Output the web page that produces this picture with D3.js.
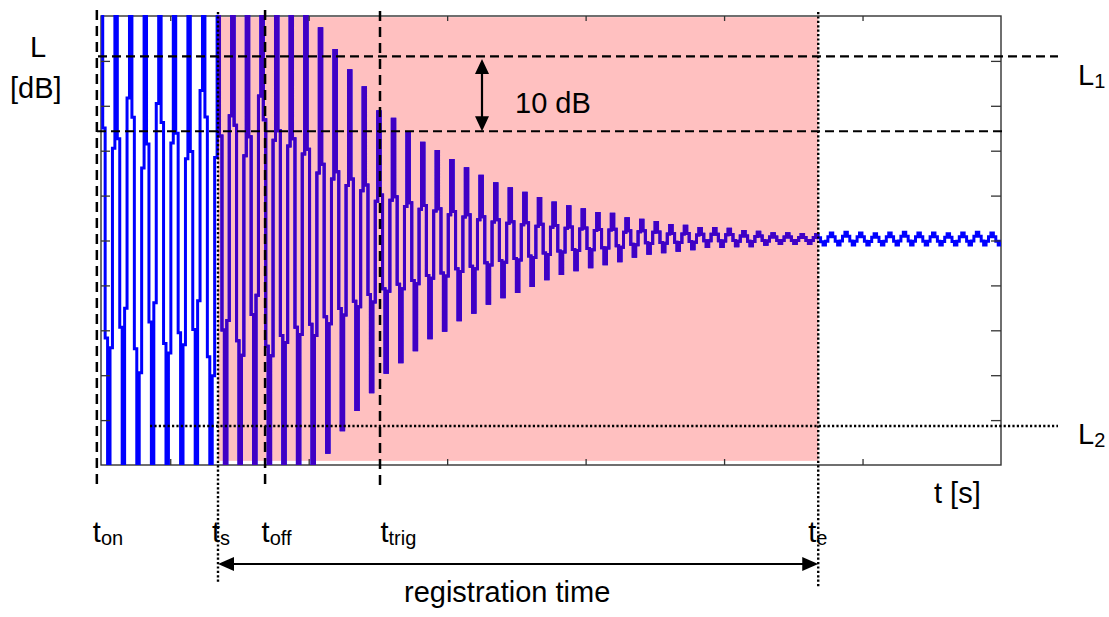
<!DOCTYPE html>
<html>
<head>
<meta charset="utf-8">
<script src="https://cdn.jsdelivr.net/npm/d3@7"></script>
<style>
  html, body { margin: 0; padding: 0; background: #fff; }
  svg { display: block; font-family: "Liberation Sans", Arial, sans-serif; }
</style>
</head>
<body>
<svg id="chart" width="1109" height="617"></svg>
<script>
// ---- Data -------------------------------------------------------------
// Event instants on the time axis (s)
const eventKeys  = ["on", "s", "off", "trig", "e"];
const eventTimes = [-0.03, 0.845, 1.185, 2.015, 5.18];

// Reference levels (dB)
const levelL1   = 54.6;
const levelStep = 10;     // distance between L1 and the trigger threshold
const levelL2   = 5.2;

// Axis tick positions (unlabelled)
const timeTicks  = [0.5, 1.5, 2.5, 3.5, 4.5, 5.5];
const levelTicks = [6, 12, 18, 24, 30, 36, 42, 48, 54];

// Oscillating level: one period and the time of the first maximum (s)
const cyclePeriod   = 0.10545;
const firstPeakTime = 0.0036;

// Level at each maximum of the oscillation (dB), cycle by cycle
const peakDb = [
  70, 66, 74, 64, 72, 68, 63, 75, 67, 71, 65, 73, 69, 66, 63,
  58.3, 55.4, 52.7, 50.4, 47.2, 46.2, 44.3, 43.0, 41.9, 40.7,
  39.6, 38.6, 37.6, 36.9, 36.3, 35.6, 35.0, 34.5, 34.1, 33.6,
  33.5, 32.9, 32.7, 32.4, 32.0, 31.9, 31.6, 31.6, 31.5, 31.2,
  31.1, 30.9, 30.9, 30.8, 30.8,
  31.0, 31.1, 31.0, 30.9, 31.0, 31.1, 31.0, 31.0, 30.9, 31.0, 31.1, 31.0, 31.0
];

// Level at each minimum that follows a maximum (dB)
const troughDb = [
  -8, -4, -12, -2, -10, -6, -3, -14, -5, -9, -1, -11, -7, -4,
  -2, 1.7, 4.7, 7.4, 9.8, 12.4, 13.8, 15.4, 17.0, 18.0, 19.4,
  20.4, 21.6, 22.5, 23.2, 24.0, 24.9, 25.6, 26.1, 26.5, 26.9,
  27.3, 27.9, 28.3, 28.5, 28.7, 28.9, 29.2, 29.2, 29.3, 29.3,
  29.5, 29.6, 29.6, 29.6, 29.4,
  29.4, 29.4, 29.4, 29.4, 29.4, 29.4, 29.4, 29.4, 29.4, 29.4, 29.4, 29.4
];

// Sampled level within a half period, as a fraction of the swing
// (6 samples per period, each held until the next one)
const stepShape = [1, 0.68, 0.32];

// ---- Layout -----------------------------------------------------------
const svg = d3.select("#chart");
const frame = { left: 101, right: 1001, top: 16, bottom: 465 };

const x = d3.scaleLinear().domain([0, 6.5]).range([frame.left, frame.right]);
const y = d3.scaleLinear().domain([0, 60]).range([frame.bottom, frame.top]);

const tAt = k => eventTimes[eventKeys.indexOf(k)];

// Build the held samples of the oscillating level
const samples = [];
const half = stepShape.length;
const dt = cyclePeriod / (2 * half);
for (let k = 0; k < troughDb.length; k++) {
  const t0 = firstPeakTime + k * cyclePeriod;
  const p = peakDb[k], tr = troughDb[k], pn = peakDb[k + 1];
  for (let j = 0; j < half; j++) samples.push([t0 + j * dt, tr + stepShape[j] * (p - tr)]);
  samples.push([t0 + half * dt, tr]);
  for (let j = half + 1; j < 2 * half; j++) samples.push([t0 + j * dt, tr + stepShape[2 * half - j] * (pn - tr)]);
}
samples.push([firstPeakTime + troughDb.length * cyclePeriod, peakDb[troughDb.length]]);

const defs = svg.append("defs");
defs.append("clipPath").attr("id", "clipFrame")
  .append("rect")
  .attr("x", x(0)).attr("y", y(60) - 1)
  .attr("width", x(6.5) - x(0)).attr("height", y(0) - y(60) + 1);
defs.append("clipPath").attr("id", "clipRegistration")
  .append("rect")
  .attr("x", x(tAt("s"))).attr("y", y(60) - 1)
  .attr("width", x(tAt("e")) - x(tAt("s"))).attr("height", y(0) - y(60) + 1);

// Registration period shading
svg.append("rect")
  .attr("x", x(tAt("s"))).attr("y", y(59.85))
  .attr("width", x(tAt("e")) - x(tAt("s")))
  .attr("height", y(0.55) - y(59.85))
  .attr("fill", "#ffc0c0");

// Plot frame
svg.append("rect")
  .attr("x", x(0)).attr("y", y(60))
  .attr("width", x(6.5) - x(0)).attr("height", y(0) - y(60))
  .attr("fill", "none").attr("stroke", "#333").attr("stroke-width", 1.4);

// Level trace
const line = d3.line().x(d => x(d[0])).y(d => y(d[1])).curve(d3.curveStep);
svg.append("path")
  .datum(samples)
  .attr("clip-path", "url(#clipFrame)")
  .attr("d", line)
  .attr("fill", "none").attr("stroke", "#0000ff").attr("stroke-width", 3);
svg.append("g").attr("clip-path", "url(#clipFrame)")
  .append("path")
  .datum(samples)
  .attr("clip-path", "url(#clipRegistration)")
  .attr("d", line)
  .attr("fill", "none").attr("stroke", "#4000c4").attr("stroke-width", 3);

// Inward ticks on all four sides
function ticksOnly(g) {
  g.select(".domain").remove();
  g.selectAll(".tick line").attr("stroke", "#333").attr("stroke-width", 1.3);
  g.selectAll(".tick text").remove();
}
svg.append("g").attr("transform", `translate(0,${y(0)})`)
  .call(d3.axisBottom(x).tickValues(timeTicks).tickSize(-6).tickFormat("")).call(ticksOnly);
svg.append("g").attr("transform", `translate(0,${y(60)})`)
  .call(d3.axisTop(x).tickValues(timeTicks).tickSize(-5).tickFormat("")).call(ticksOnly);
svg.append("g").attr("transform", `translate(${x(0)},0)`)
  .call(d3.axisLeft(y).tickValues(levelTicks).tickSize(-9).tickFormat("")).call(ticksOnly);
svg.append("g").attr("transform", `translate(${x(6.5)},0)`)
  .call(d3.axisRight(y).tickValues(levelTicks).tickSize(-10).tickFormat("")).call(ticksOnly);

// Level markers
const guides = svg.append("g").attr("fill", "none").attr("stroke", "#000");
guides.append("line")
  .attr("x1", 98).attr("x2", 1058)
  .attr("y1", y(levelL1)).attr("y2", y(levelL1))
  .attr("stroke-width", 2.2).attr("stroke-dasharray", "9,5");
guides.append("line")
  .attr("x1", 97).attr("x2", 1005)
  .attr("y1", y(levelL1 - levelStep)).attr("y2", y(levelL1 - levelStep))
  .attr("stroke-width", 2.2).attr("stroke-dasharray", "9,5");
guides.append("line")
  .attr("x1", 150).attr("x2", 1058)
  .attr("y1", Math.round(y(levelL2))).attr("y2", Math.round(y(levelL2)))
  .attr("stroke-width", 2.4).attr("stroke-dasharray", "2.2,2.2");

// Event markers
const eventStyle = {
  on:   { dash: "10,6",    top: 10, bottom: 490, w: 2.5 },
  s:    { dash: "2.2,2.2", top: 12, bottom: 584, w: 2.4 },
  off:  { dash: "10,6",    top: 10, bottom: 490, w: 2.5 },
  trig: { dash: "10,6",    top: 11, bottom: 490, w: 2.5 },
  e:    { dash: "2.2,2.2", top: 12, bottom: 588, w: 2.4 }
};
eventKeys.forEach(k => {
  const s = eventStyle[k];
  guides.append("line")
    .attr("x1", x(tAt(k))).attr("x2", x(tAt(k)))
    .attr("y1", s.top).attr("y2", s.bottom)
    .attr("stroke-width", s.w).attr("stroke-dasharray", s.dash);
});

// Double-headed arrows
function arrow(x1, y1, x2, y2, len, hw) {
  const g = svg.append("g");
  const dx = x2 - x1, dy = y2 - y1, L = Math.hypot(dx, dy);
  const ux = dx / L, uy = dy / L;
  g.append("line")
    .attr("x1", x1 + ux * len * 0.8).attr("y1", y1 + uy * len * 0.8)
    .attr("x2", x2 - ux * len * 0.8).attr("y2", y2 - uy * len * 0.8)
    .attr("stroke", "#000").attr("stroke-width", 2.2);
  const head = (tx, ty, sx, sy) => {
    const bx = tx + sx * len, by = ty + sy * len;
    const px = -sy * hw, py = sx * hw;
    return `M${tx},${ty}L${bx + px},${by + py}L${bx - px},${by - py}Z`;
  };
  g.append("path").attr("d", head(x1, y1, ux, uy)).attr("fill", "#000");
  g.append("path").attr("d", head(x2, y2, -ux, -uy)).attr("fill", "#000");
}
arrow(482, y(levelL1) + 2.5, 482, y(levelL1 - levelStep), 15, 7);
arrow(x(tAt("s")), 564, x(tAt("e")), 564, 16, 7);

// Text
const txt = svg.append("g").attr("fill", "#000");
const big = 29, sub = 20;
txt.append("text").attr("x", 30).attr("y", 57).attr("font-size", big).text("L");
txt.append("text").attr("x", 10).attr("y", 98).attr("font-size", big).text("[dB]");

function subLabel(xp, yp, main, s) {
  const t = txt.append("text").attr("x", xp).attr("y", yp).attr("font-size", big);
  t.append("tspan").text(main);
  t.append("tspan").attr("font-size", sub).attr("dy", 3).text(s);
}
subLabel(1078, 85, "L", "1");
subLabel(1078, 444, "L", "2");

const labelShift = { on: -4, s: -6, off: -3.5, trig: 0.5, e: -10 };
eventKeys.forEach(k => subLabel(x(tAt(k)) + labelShift[k], 542, "t", k));

txt.append("text").attr("x", 934).attr("y", 503).attr("font-size", big).text("t [s]");
txt.append("text").attr("x", 515).attr("y", 113).attr("font-size", big).text("10 dB");
txt.append("text").attr("x", 404).attr("y", 602).attr("font-size", big).text("registration time");
</script>
</body>
</html>
